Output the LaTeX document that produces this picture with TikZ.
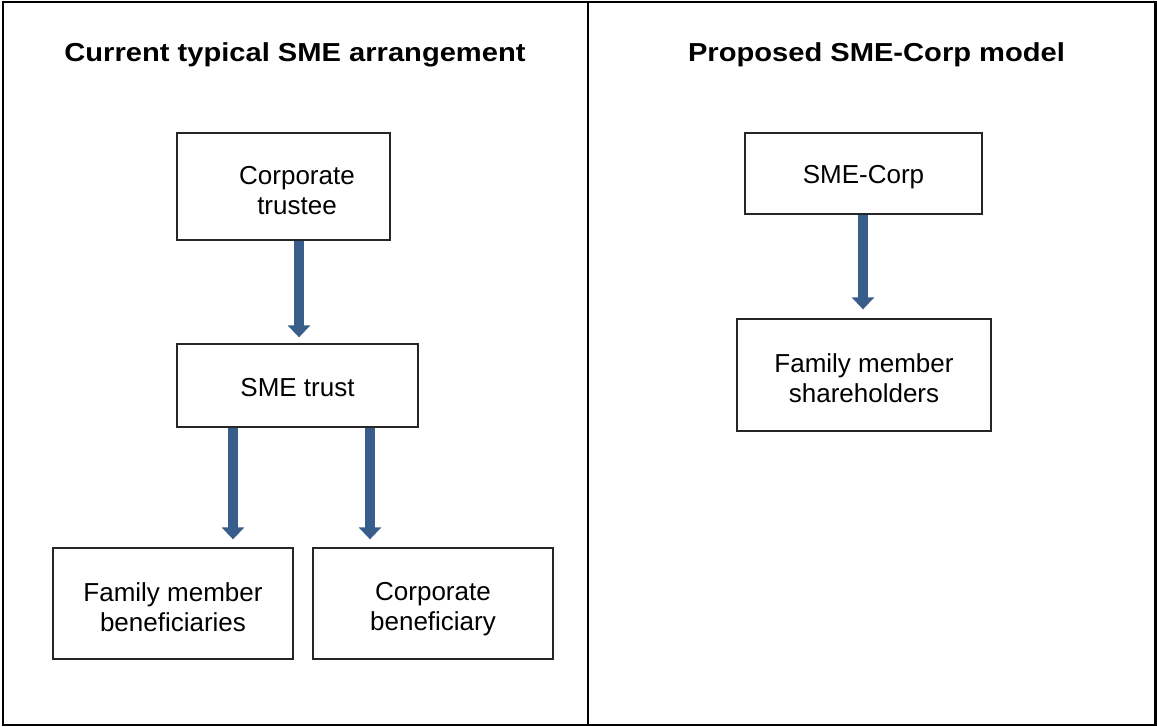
\documentclass[tikz,border=0pt]{standalone}
\usepackage{fontspec}
\setmainfont{Liberation Sans}
\usetikzlibrary{arrows.meta}
\definecolor{arrowblue}{HTML}{385D8A}
% struts that set the text lines slightly below the box centre
\newcommand{\lowstrut}{\rule[-4pt]{0pt}{29pt}}
\newcommand{\twolines}[2]{\rule[-4pt]{0pt}{33pt}#1\\#2\rule[-4pt]{0pt}{4pt}}
\begin{document}
\begin{tikzpicture}[x=1pt,y=-1pt,
  boxfont/.style={font=\fontsize{26}{30}\selectfont, align=center},
  oneline/.style={execute at begin node=\lowstrut, execute at end node=\lowstrut},
  box/.style={draw=black!85, line width=1.3pt, fill=white, inner sep=0pt, boxfont},
  boxtext/.style={inner sep=0pt, boxfont},
  heading/.style={font=\fontsize{26}{30}\selectfont\bfseries, anchor=base, inner sep=0pt},
  fatarrow/.style={draw=arrowblue, line width=10pt,
    -{Triangle[width=22pt,length=12pt]}, shorten >=6pt}]

\useasboundingbox (0,0) rectangle (1157,727);

% outer frame and divider
\draw[line width=2.2pt] (3,1.8) rectangle (1155.5,725.3);
\coordinate (divtop) at (587.8,1.8);
\coordinate (divbot) at (587.8,725.3);
\draw[line width=2.2pt] (divtop) -- (divbot);

% headings
\node[heading] (h1) at (295,61.5) {\scalebox{1.12}[1]{Current typical SME arrangement}};
\node[heading] (h2) at (876.5,61.5) {\scalebox{1.12}[1]{Proposed SME-Corp model}};

% left side: trust arrangement
\node[box, minimum width=213pt, minimum height=107pt] (ct) at (283.5,186.5) {};
\node[boxtext] (ctl) at (297,187) {\twolines{Corporate}{trustee}};
\node[box, oneline, minimum width=241pt, minimum height=83pt] (st) at (297.5,385.5) {SME trust};
\node[box, minimum width=240pt, minimum height=111pt] (fb) at (173,603.5) {\twolines{Family member}{beneficiaries}};
\node[box, minimum width=240pt, minimum height=111pt] (cb) at (433,603.5) {\twolines{Corporate}{beneficiary}};

% right side: corporate model
\node[box, oneline, minimum width=237pt, minimum height=81pt] (sc) at (863.5,173.5) {SME-Corp};
\node[box, minimum width=254pt, minimum height=112pt] (fs) at (864,375) {\twolines{Family member}{shareholders}};

% arrow columns
\coordinate (c1) at (299,0);
\coordinate (c2) at (233,0);
\coordinate (c3) at (370,0);
\coordinate (c4) at (863,0);

\draw[fatarrow] (c1 |- ct.south) -- (c1 |- st.north);
\draw[fatarrow, shorten >=8pt] (c2 |- st.south) -- (c2 |- fb.north);
\draw[fatarrow, shorten >=8pt] (c3 |- st.south) -- (c3 |- cb.north);
\draw[fatarrow, shorten >=9pt] (c4 |- sc.south) -- (c4 |- fs.north);
\end{tikzpicture}
\end{document}
